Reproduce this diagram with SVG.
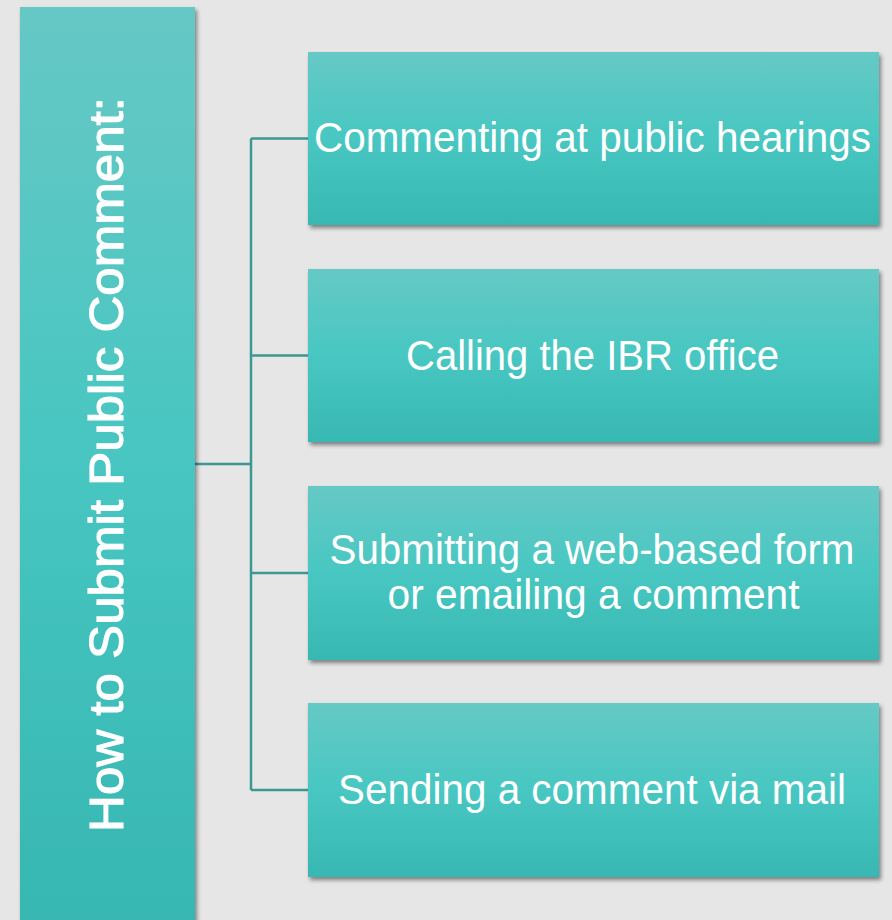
<svg xmlns="http://www.w3.org/2000/svg" width="892" height="920" viewBox="0 0 892 920">
<defs>
<linearGradient id="gBox" x1="0" y1="0" x2="0" y2="1">
<stop offset="0" stop-color="#66c9c5"/>
<stop offset="0.5" stop-color="#48c7c2"/>
<stop offset="1" stop-color="#38b8b3"/>
</linearGradient>
<linearGradient id="gBar" x1="0" y1="0" x2="0" y2="1">
<stop offset="0" stop-color="#66c8c5"/>
<stop offset="0.5" stop-color="#47c6c1"/>
<stop offset="1" stop-color="#37b7b2"/>
</linearGradient>
<filter id="sh" x="-10%" y="-10%" width="120%" height="120%">
<feDropShadow dx="2" dy="3" stdDeviation="2.2" flood-color="#000" flood-opacity="0.45"/>
</filter>
</defs>
<style>
.box{fill:url(#gBox);filter:url(#sh)}
.t{fill:#fff;font-family:"Liberation Sans",Arial,sans-serif;font-size:42px}
.conn{fill:none;stroke:#3d9794;stroke-width:2.5}
</style>
<rect width="892" height="920" fill="#e6e6e6"/>
<g id="connectors">
<path class="conn" d="M195 464H251M251 138.5V790M251 138.5H308M251 355.5H308M251 573H308M251 790H308"/>
</g>
<g id="root">
<rect x="20" y="7" width="175" height="920" fill="url(#gBar)" filter="url(#sh)"/>
<text class="t" transform="translate(123,832) rotate(-90)" style="font-size:48px;stroke:#fff;stroke-width:1.1" textLength="735" lengthAdjust="spacingAndGlyphs">How to Submit Public Comment:</text>
</g>
<g id="n1">
<rect class="box" x="308" y="52" width="571" height="173"/>
<text class="t" x="314" y="152" textLength="557" lengthAdjust="spacingAndGlyphs">Commenting at public hearings</text>
</g>
<g id="n2">
<rect class="box" x="308" y="269" width="571" height="173"/>
<text class="t" x="406" y="369.5" textLength="373" lengthAdjust="spacingAndGlyphs">Calling the IBR office</text>
</g>
<g id="n3">
<rect class="box" x="308" y="486" width="571" height="174"/>
<text class="t" x="329.5" y="563.5" textLength="525" lengthAdjust="spacingAndGlyphs">Submitting a web-based form</text>
<text class="t" x="387.5" y="608.5" textLength="412" lengthAdjust="spacingAndGlyphs">or emailing a comment</text>
</g>
<g id="n4">
<rect class="box" x="308" y="703" width="571" height="174"/>
<text class="t" x="338" y="803.5" textLength="508" lengthAdjust="spacingAndGlyphs">Sending a comment via mail</text>
</g>
</svg>
